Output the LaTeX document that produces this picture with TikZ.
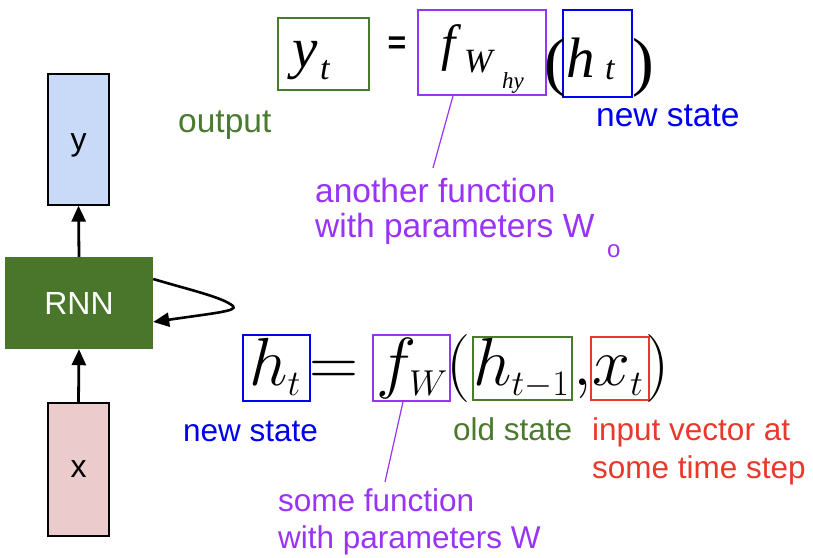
\documentclass[tikz,border=0pt]{standalone}
\usepackage{fix-cm}
\usepackage[no-math]{fontspec}
\setmainfont{Liberation Sans}
\newfontfamily\tms{Liberation Serif}
\usetikzlibrary{arrows.meta}
\DeclareMathSizes{68}{68}{36}{26}
\definecolor{cgreen}{HTML}{4A7A2E}
\definecolor{cblue}{HTML}{0000F0}
\definecolor{cpurple}{HTML}{9933F5}
\definecolor{cred}{HTML}{E8392C}
\definecolor{cyfill}{HTML}{C9DAF8}
\definecolor{cxfill}{HTML}{EBCBCB}
\definecolor{crnn}{HTML}{4A762C}
\begin{document}
\begin{tikzpicture}[x=1pt,y=-1pt,
  box/.style={draw=#1, line width=1.6pt, inner sep=0pt},
  blk/.style={draw=black, line width=1.3pt, inner sep=0pt, font=\fontsize{32}{36}\selectfont},
  txt/.style={inner sep=0pt, anchor=base west},
  lbl/.style={inner sep=0pt, anchor=base west, font=\fontsize{31.5}{36}\selectfont},
  lblb/.style={inner sep=0pt, anchor=base west, font=\fontsize{33.5}{38}\selectfont},
  tip/.style={-{Triangle[width=14pt,length=16pt]}},
  arr/.style={line width=2.8pt, tip},
  conn/.style={draw=cpurple, line width=1.2pt}]
\useasboundingbox (0,0) rectangle (813,557);

% left diagram
\node[blk, fill=cyfill, minimum width=61pt, minimum height=131pt] (ybx) at (78.5,139.5) {};
\node[inner sep=0pt, anchor=base, font=\fontsize{32}{36}\selectfont] (ylab) at (78.5,150) {y};
\node[inner sep=0pt, fill=crnn, text=white, minimum width=148pt, minimum height=92pt, font=\fontsize{32}{36}\selectfont] (rnn) at (79,303) {RNN};
\node[blk, fill=cxfill, minimum width=61pt, minimum height=133pt] (xbx) at (78.5,469.5) {x};
\draw[arr] (xbx.north) -- (rnn.south);
\draw[arr] (rnn.north) -- (ybx.south);
\coordinate (lp) at (233,306);
\draw[line width=2.6pt, tip] ([yshift=24pt]rnn.east) .. controls (190,290) and (222,297) .. (lp) .. controls (238,311) and (215,313) .. ([yshift=-19pt]rnn.east);

% top equation boxes
\node[box=cgreen, minimum width=91pt, minimum height=72pt] (ytb) at (323.5,54) {};
\node[box=cpurple, minimum width=128pt, minimum height=85pt] (ftb) at (482,52.5) {};
\node[box=cblue, minimum width=69pt, minimum height=87pt] (htb) at (597.5,53.5) {};
% top equation text
\node[txt, font=\tms\itshape\fontsize{57}{60}\selectfont] (ty) at (292,67) {y};
\node[txt, font=\tms\itshape\fontsize{34}{36}\selectfont] (tyt) at (320,79) {t};
\node[inner sep=0pt, font=\bfseries\fontsize{32}{34}\selectfont] (teq) at (397,45) {=};
\node[txt, font=\tms\itshape\fontsize{51}{54}\selectfont] (tf) at (441,60) {f};
\node[txt, font=\tms\itshape\fontsize{34}{36}\selectfont] (tW) at (464,72) {W};
\node[txt, font=\tms\itshape\fontsize{23}{25}\selectfont] (thy) at (502,88) {hy};
\node[txt, font=\tms\fontsize{65}{68}\selectfont] (tlp) at (544,83) {(};
\node[txt, font=\tms\itshape\fontsize{57}{60}\selectfont] (th) at (566,77) {h};
\node[txt, font=\tms\itshape\fontsize{34}{36}\selectfont] (tht) at (605,79) {t};
\node[txt, font=\tms\fontsize{65}{68}\selectfont] (trp) at (632,83) {)};

% bottom equation boxes
\node[box=cblue, minimum width=67pt, minimum height=66pt] (hbb) at (276.5,368) {};
\node[box=cpurple, minimum width=77pt, minimum height=66pt] (fbb) at (411.5,368) {};
\node[box=cgreen, minimum width=99pt, minimum height=63pt] (hpb) at (522.5,368.5) {};
\node[box=cred, minimum width=58pt, minimum height=63pt] (xbb) at (620,368.5) {};
% bottom equation text
\node[txt, font=\fontsize{68}{70}\selectfont] (bh) at (249,385) {$h_t$};
\node[txt, font=\fontsize{68}{70}\selectfont] (beq) at (309,385) {$=$};
\node[txt, font=\fontsize{68}{70}\selectfont] (bf) at (376,385) {$f_W$};
\node[txt, font=\fontsize{68}{70}\selectfont] (blp) at (446,385) {$($};
\node[txt, font=\fontsize{68}{70}\selectfont] (bhp) at (473,385) {$h_{t-1}$};
\node[txt, font=\fontsize{68}{70}\selectfont] (bcm) at (573,385) {$,$};
\node[txt, font=\fontsize{68}{70}\selectfont] (bx) at (592,385) {$x_t$};
\node[txt, font=\fontsize{68}{70}\selectfont] (brp) at (645,385) {$)$};

% connectors
\coordinate (c1) at (433,168);
\draw[conn] ([xshift=-29pt]ftb.south) -- (c1);
\coordinate (c2) at (385,482);
\draw[conn] ([xshift=-8.5pt]fbb.south) -- (c2);

% labels
\node[lblb, text=cgreen] (out) at (178,132) {output};
\node[lblb, text=cblue] (ns1) at (596,126) {new state};
\node[lblb, text=cpurple] (af1) at (315,202) {another function};
\node[lblb, text=cpurple] (af2) at (315,237) {with parameters W};
\node[txt, text=cpurple, font=\fontsize{24}{26}\selectfont] (af3) at (607,257) {o};
\node[lbl, text=cblue] (ns2) at (183,441) {new state};
\node[lbl, text=cgreen] (os) at (453,440) {old state};
\node[lbl, text=cred] (iv1) at (592,440) {input vector at};
\node[lbl, text=cred] (iv2) at (592,478) {some time step};
\node[lbl, text=cpurple] (sf1) at (278,511) {some function};
\node[lbl, text=cpurple] (sf2) at (278,548) {with parameters W};
\end{tikzpicture}
\end{document}
